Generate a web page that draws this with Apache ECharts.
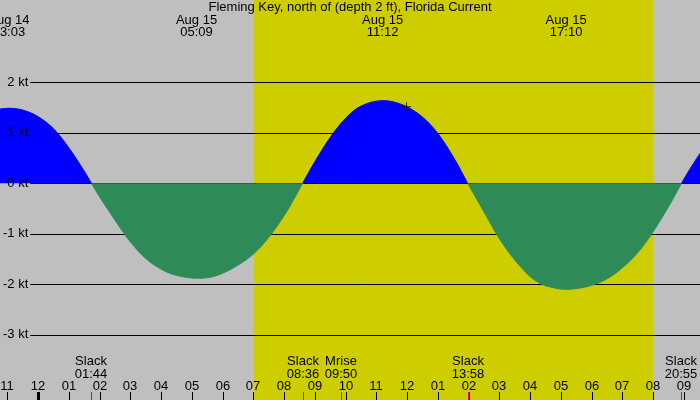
<!DOCTYPE html>
<html>
<head>
<meta charset="utf-8">
<script src="https://cdn.jsdelivr.net/npm/echarts@6/dist/echarts.min.js"></script>
<style>
  html, body { margin: 0; padding: 0; background: #bfbfbf; }
  #chart { width: 700px; height: 400px; }
</style>
</head>
<body>
<div id="chart"></div>
<script>
// all times are hours counted from Aug 14 00:00 (so 29.15 = Aug 15 05:09)
const tideTimes = [22.75, 23.05, 23.5, 24.0, 24.5, 25.0, 25.5, 25.733,
  26.0, 26.5, 26.77, 27.0, 27.5, 28.0, 28.45, 29.15, 29.5, 30.0, 30.5, 31.0, 31.5, 32.0, 32.3, 32.6,
  33.0, 33.5, 34.0, 34.5, 35.2, 35.5, 35.98, 36.5, 36.98, 37.5, 37.967,
  38.5, 39.0, 39.5, 40.0, 40.26, 40.5, 41.167, 41.5, 42.0, 42.5, 43.0, 43.5, 43.95, 44.5, 44.917,
  45.2, 45.55]
const tideKnots = [1.47, 1.485, 1.45, 1.32, 1.08, 0.70, 0.24, 0,
  -0.27, -0.73, -0.97, -1.16, -1.49, -1.70, -1.815, -1.88, -1.87, -1.78, -1.62, -1.40, -1.07, -0.64, -0.33, 0,
  0.43, 0.91, 1.29, 1.53, 1.637, 1.62, 1.518, 1.31, 1.0, 0.52, 0,
  -0.57, -1.10, -1.52, -1.85, -1.96, -2.03, -2.10, -2.085, -2.02, -1.89, -1.67, -1.37, -1.0, -0.46, 0,
  0.29, 0.62]

const title = 'Fleming Key, north of (depth 2 ft), Florida Current'

// max / min current, labelled along the top
const peakTimes = [23.05, 29.15, 35.2, 41.167]
const peakDates = ['Aug 14', 'Aug 15', 'Aug 15', 'Aug 15']
const peakClock = ['23:03', '05:09', '11:12', '17:10']

// slack water and moonrise, labelled along the bottom
const eventTimes = [25.733, 32.6, 33.833, 37.967, 44.917]
const eventNames = ['Slack', 'Slack', 'Mrise', 'Slack', 'Slack']
const eventClock = ['01:44', '08:36', '09:50', '13:58', '20:55']

const hourTicks = [23, 24, 25, 26, 27, 28, 29, 30, 31, 32, 33, 34, 35, 36, 37, 38, 39, 40, 41, 42, 43, 44, 45]
const hourLabels = ['11', '12', '01', '02', '03', '04', '05', '06', '07', '08', '09', '10',
  '11', '12', '01', '02', '03', '04', '05', '06', '07', '08', '09']

const sunrise = 31.02
const sunset = 44.0
const nowMark = [35.98, 1.518]

const knotTicks = [-3, 2]

const xMin = 22.76
const xMax = 45.52
const font = '13px "Liberation Sans", Arial, sans-serif'

const flood = tideTimes.map((t, i) => [t, tideKnots[i] >= 0 ? tideKnots[i] : '-'])
const ebb = tideTimes.map((t, i) => [t, tideKnots[i] <= 0 ? tideKnots[i] : '-'])

function textEl(x, y, text) {
  return {
    type: 'text', x: x, y: y,
    style: { text: text, font: font, fill: '#000', align: 'center', verticalAlign: 'middle',
      textAlign: 'center', textVerticalAlign: 'middle' }
  }
}

const chart = echarts.init(document.getElementById('chart'))
const option = {
  animation: false,
  backgroundColor: '#bfbfbf',
  grid: [
    { left: 0, right: 0, top: 0, bottom: 0 },
    { left: 0, right: 0, top: 82.3, height: 252.5 },
    { left: 30, right: 0, top: 82.3, height: 252.5 }
  ],
  xAxis: [
    { type: 'value', gridIndex: 0, min: xMin, max: xMax, show: false },
    { type: 'value', gridIndex: 1, min: xMin, max: xMax, show: false },
    { type: 'value', gridIndex: 2, min: 0, max: 1, show: false }
  ],
  yAxis: [
    { type: 'value', gridIndex: 0, min: 0, max: 400, inverse: true, show: false },
    { type: 'value', gridIndex: 1, min: knotTicks[0], max: knotTicks[1], show: false },
    {
      type: 'value', gridIndex: 2, min: knotTicks[0], max: knotTicks[1], interval: 1, z: 0,
      axisLine: { show: false }, axisTick: { show: false }, axisLabel: { show: false },
      splitLine: { show: true, lineStyle: { color: '#000', width: 1 } }
    },
    {
      type: 'value', gridIndex: 2, position: 'left', min: knotTicks[0], max: knotTicks[1], interval: 1, z: 5,
      axisLine: { show: false }, axisTick: { show: false }, splitLine: { show: false },
      axisLabel: { margin: 2, color: '#000', fontSize: 13, fontFamily: '"Liberation Sans", Arial, sans-serif',
        formatter: '{value} kt' }
    }
  ],
  series: [
    {
      // daylight band
      type: 'custom', xAxisIndex: 0, yAxisIndex: 0, z: -5, silent: true,
      data: [[sunrise, sunset]],
      encode: { x: [0, 1] },
      renderItem: function (params, api) {
        const a = api.coord([api.value(0), 0])
        const b = api.coord([api.value(1), 400])
        return { type: 'rect', shape: { x: Math.round(a[0]), y: a[1], width: Math.round(b[0]) - Math.round(a[0]), height: b[1] - a[1] },
          style: { fill: '#cdcd00' } }
      }
    },
    {
      type: 'line', xAxisIndex: 1, yAxisIndex: 1, z: 2, data: flood, symbol: 'none',
      smooth: 0.35, connectNulls: false,
      lineStyle: { color: '#0000ff', width: 1 }, areaStyle: { color: '#0000ff', opacity: 1 }
    },
    {
      type: 'line', xAxisIndex: 1, yAxisIndex: 1, z: 2, data: ebb, symbol: 'none',
      smooth: 0.35, connectNulls: false,
      lineStyle: { color: '#2e8b57', width: 1 }, areaStyle: { color: '#2e8b57', opacity: 1 }
    },
    {
      type: 'scatter', xAxisIndex: 1, yAxisIndex: 1, z: 3, data: [nowMark],
      symbol: 'path://M4,0h1v9h-1zM0,4h9v1h-9z', symbolSize: 9,
      itemStyle: { color: '#000' }
    },
    {
      // hour ticks and hour labels
      type: 'custom', xAxisIndex: 0, yAxisIndex: 0, z: 4, silent: true,
      data: hourTicks.map((t, i) => [t, i]),
      encode: { x: 0 },
      renderItem: function (params, api) {
        const t = api.value(0)
        const x = Math.round(api.coord([t, 0])[0])
        const thick = t % 24 === 0
        return {
          type: 'group',
          children: [
            { type: 'rect', shape: { x: thick ? x - 1 : x, y: 392, width: thick ? 3 : 1, height: 8 }, style: { fill: '#000' } },
            textEl(x, 386, hourLabels[api.value(1)])
          ]
        }
      }
    },
    {
      // event ticks and labels
      type: 'custom', xAxisIndex: 0, yAxisIndex: 0, z: 4, silent: true,
      data: eventTimes.map((t, i) => [t, i]),
      encode: { x: 0 },
      renderItem: function (params, api) {
        const i = api.value(1)
        const x = Math.round(api.coord([api.value(0), 0])[0])
        return {
          type: 'group',
          children: [
            { type: 'rect', shape: { x: x, y: 392, width: 1, height: 8 }, style: { fill: '#ff0000' } },
            textEl(x, 361.5, eventNames[i]),
            textEl(x, 374, eventClock[i])
          ]
        }
      }
    },
    {
      // peak labels along the top
      type: 'custom', xAxisIndex: 0, yAxisIndex: 0, z: 4, silent: true,
      data: peakTimes.map((t, i) => [t, i]),
      encode: { x: 0 },
      renderItem: function (params, api) {
        const i = api.value(1)
        const x = api.coord([api.value(0), 0])[0]
        return {
          type: 'group',
          children: [textEl(x, 20, peakDates[i]), textEl(x, 32.5, peakClock[i])]
        }
      }
    }
  ],
  graphic: [
    { type: 'text', left: 'center', top: 1, z: 10,
      style: { text: title, font: font, fill: '#000' } }
  ]
}
option && chart.setOption(option)
</script>
</body>
</html>
